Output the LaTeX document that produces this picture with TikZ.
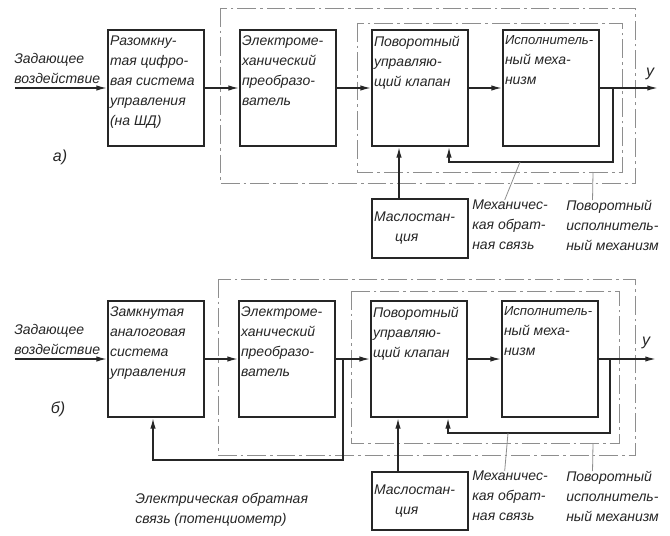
\documentclass[tikz,border=0pt]{standalone}
\usepackage{fontspec}
\setmainfont{Liberation Sans}
\usetikzlibrary{arrows.meta}
\definecolor{ink}{HTML}{262626}
\definecolor{frame}{HTML}{8E8E8E}
\newcommand{\vtext}[2]{\parbox[c][#1][t]{69pt}{\raggedright #2}}
\newcommand{\longln}[1]{\mbox{\fontsize{9.8}{15}\selectfont #1}}

\begin{document}
\begin{tikzpicture}[x=0.75pt, y=-0.75pt, ink,
    font=\itshape\fontsize{10.5}{15}\selectfont,
    blok/.style={draw, line width=1.3pt, minimum width=72pt, minimum height=87pt, inner sep=1.5pt},
    masl/.style={draw, line width=1.3pt, minimum width=70.5pt, minimum height=44pt, inner sep=1.5pt},
    sig/.style={line width=1.1pt, -{Latex[length=8pt,width=4pt]}},
    zone/.style={frame, line width=0.6pt, dash pattern=on 14pt off 3pt on 2pt off 3pt},
    lead/.style={frame, line width=0.6pt},
    note/.style={align=left, inner sep=0pt, anchor=north west}]

    \useasboundingbox[fill=white] (0,0) rectangle (670,535);

    % Panel a): open-loop digital control
    \begin{scope}[shift={(0,0)}]
        \draw[zone] (220,8) rectangle (635,183);
        \draw[zone] (357,23) rectangle (622,172);

        \node[blok] (sysA) at (156,88) {\vtext{82pt}{\vspace*{2pt}Разомкну-\\тая цифро-\\вая система\\управления\\(на ШД)}};
        \node[blok] (emA) at (288,88) {\vtext{82pt}{\vspace*{2pt}Электроме-\\ханический\\преобразо-\\ватель}};
        \node[blok] (klA) at (420,88) {\vtext{82pt}{\vspace*{2pt}Поворотный\\управляю-\\щий клапан}};
        \node[blok] (imA) at (551,88) {\vtext{82pt}{\vspace*{2pt}\longln{Исполнитель-}\\ный меха-\\низм}};
        \node[masl] (msA) at (420,228.5) {\parbox[c][39pt][c]{69pt}{Маслостан-\\\hspace*{1.5em}ция}};

        \coordinate (inA) at (15,88);
        \coordinate (outA) at (658,88);
        \node[note, anchor=south west] (zadA) at (14,84) {Задающее\\воздействие};
        \node[font=\itshape\large] (yA) at (650,74) {у};
        \node[font=\itshape\large] (tagA) at (60,157) {а)};

        \draw[sig] (inA) -- (sysA);
        \draw[sig] (sysA) -- (emA);
        \draw[sig] (emA) -- (klA);
        \draw[sig] (klA) -- (imA);
        \draw[sig] (imA) -- (outA);

        % mechanical feedback
        \coordinate (jA) at (613,88);
        \coordinate (fbA) at (449,162);
        \draw[sig] (jA) |- (fbA) -- (fbA |- klA.south);

        \coordinate (mxA) at (399,0);
        \draw[sig] (msA.north -| mxA) -- (klA.south -| mxA);

        \node[note] (mechA) at (472,200) {Механичес-\\кая обрат-\\ная связь};
        \node[note] (rotA) at (566,200) {Поворотный\\исполнитель-\\ный механизм};
        \coordinate (pmA) at (520,162);
        \coordinate (prA) at (593,172);
        \draw[lead] (pmA) -- ([xshift=-4pt]mechA.north);
        \draw[lead] (prA) -- ([xshift=-15pt]rotA.north);
    \end{scope}

    % Panel b): closed-loop analog control
    \begin{scope}[shift={(0,271)}]
        \draw[zone] (218,8) rectangle (635,184);
        \draw[zone] (351,20) rectangle (619,172);

        \node[blok] (sysB) at (156,88) {\vtext{82pt}{\vspace*{2pt}Замкнутая\\аналоговая\\система\\управления}};
        \node[blok] (emB) at (287,88) {\vtext{82pt}{\vspace*{2pt}Электроме-\\ханический\\преобразо-\\ватель}};
        \node[blok] (klB) at (419,88) {\vtext{82pt}{\vspace*{2pt}Поворотный\\управляю-\\щий клапан}};
        \node[blok] (imB) at (550,88) {\vtext{82pt}{\vspace*{2pt}\longln{Исполнитель-}\\ный меха-\\низм}};
        \node[masl] (msB) at (420,230) {\parbox[c][39pt][c]{69pt}{Маслостан-\\\hspace*{1.5em}ция}};

        \coordinate (inB) at (15,88);
        \coordinate (outB) at (656,88);
        \node[note, anchor=south west] (zadB) at (14,84) {Задающее\\воздействие};
        \node[font=\itshape\large] (yB) at (646,72) {у};
        \node[font=\itshape\large] (tagB) at (58,138) {б)};

        \draw[sig] (inB) -- (sysB);
        \draw[sig] (sysB) -- (emB);
        \draw[sig] (emB) -- (klB);
        \draw[sig] (klB) -- (imB);
        \draw[sig] (imB) -- (outB);

        % mechanical feedback
        \coordinate (jB) at (610,88);
        \coordinate (fbB) at (448,162);
        \draw[sig] (jB) |- (fbB) -- (fbB |- klB.south);

        % electrical feedback (potentiometer)
        \coordinate (jeB) at (343,88);
        \coordinate (feB) at (153,189);
        \draw[sig] (jeB) |- (feB) -- (feB |- sysB.south);

        \coordinate (mxB) at (398,0);
        \draw[sig] (msB.north -| mxB) -- (klB.south -| mxB);

        \node[note] (elB) at (135,222) {Электрическая обратная\\связь (потенциометр)};
        \node[note] (mechB) at (472,200) {Механичес-\\кая обрат-\\ная связь};
        \node[note] (rotB) at (566,200) {Поворотный\\исполнитель-\\ный механизм};
        \coordinate (pmB) at (508,162);
        \coordinate (prB) at (593,172);
        \draw[lead] (pmB) -- ([xshift=-4pt]mechB.north);
        \draw[lead] (prB) -- ([xshift=-15pt]rotB.north);
    \end{scope}
\end{tikzpicture}
\end{document}
